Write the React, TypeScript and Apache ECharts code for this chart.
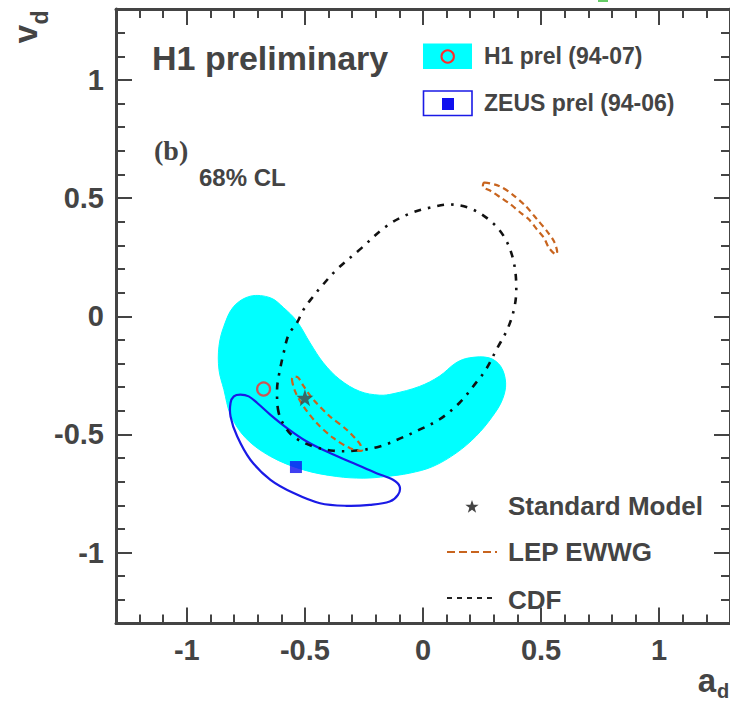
import React, { useEffect, useRef } from 'react';
import * as echarts from 'echarts';

// ---- axis ranges and tick labels ----
const AXIS_MIN = -1.3;
const AXIS_MAX = 1.3;

// ---- H1 prel (94-07) 68% CL region (a_d, v_d) ----
const h1Region: number[][] = [
  [-0.731, 0.085], [-0.646, 0.078], [-0.59, 0.036], [-0.534, -0.021], [-0.478, -0.113],
  [-0.422, -0.197], [-0.352, -0.268], [-0.267, -0.318], [-0.183, -0.334], [-0.127, -0.328],
  [-0.015, -0.297], [0.069, -0.254], [0.14, -0.197], [0.196, -0.176], [0.28, -0.176],
  [0.329, -0.212], [0.35, -0.282], [0.336, -0.353], [0.294, -0.424], [0.224, -0.508],
  [0.14, -0.579], [0.041, -0.636], [-0.057, -0.664], [-0.155, -0.678], [-0.253, -0.685],
  [-0.365, -0.678], [-0.506, -0.65], [-0.646, -0.593], [-0.752, -0.514], [-0.815, -0.417],
  [-0.843, -0.311], [-0.864, -0.226], [-0.864, -0.127], [-0.843, -0.042], [-0.801, 0.042],
];

// ---- ZEUS prel (94-06) contour ----
const zeusContour: number[][] = [
  [-0.773, -0.332], [-0.738, -0.339], [-0.702, -0.367], [-0.646, -0.417], [-0.576, -0.473],
  [-0.492, -0.53], [-0.394, -0.579], [-0.296, -0.621], [-0.197, -0.664], [-0.127, -0.692],
  [-0.099, -0.72], [-0.106, -0.756], [-0.141, -0.784], [-0.225, -0.798], [-0.323, -0.802],
  [-0.436, -0.791], [-0.548, -0.748], [-0.646, -0.692], [-0.731, -0.607], [-0.787, -0.508],
  [-0.815, -0.424], [-0.815, -0.367], [-0.801, -0.339],
];

// ---- CDF contour ----
const cdfContour: number[][] = [
  [-0.611, -0.409], [-0.618, -0.311], [-0.611, -0.254], [-0.59, -0.155], [-0.569, -0.078],
  [-0.534, -0.028], [-0.506, 0.028], [-0.464, 0.085], [-0.432, 0.124], [-0.365, 0.198],
  [-0.267, 0.283], [-0.155, 0.381], [-0.064, 0.431], [0.027, 0.459], [0.119, 0.473],
  [0.21, 0.452], [0.294, 0.396], [0.35, 0.325], [0.385, 0.226], [0.395, 0.113],
  [0.385, 0.028], [0.357, -0.056], [0.315, -0.134], [0.266, -0.226], [0.224, -0.282],
  [0.154, -0.367], [0.069, -0.437], [-0.015, -0.48], [-0.099, -0.518], [-0.183, -0.551],
  [-0.281, -0.568], [-0.38, -0.569], [-0.464, -0.551], [-0.534, -0.519], [-0.576, -0.48],
];

// ---- LEP EWWG contours ----
const lepContourLow: number[][] = [
  [-0.555, -0.268], [-0.541, -0.319], [-0.506, -0.381], [-0.45, -0.452], [-0.38, -0.515],
  [-0.309, -0.558], [-0.259, -0.569], [-0.263, -0.548], [-0.275, -0.53], [-0.323, -0.48],
  [-0.394, -0.424], [-0.464, -0.353], [-0.507, -0.294], [-0.528, -0.26], [-0.549, -0.256],
];
const lepContourHigh: number[][] = [
  [0.259, 0.565], [0.322, 0.551], [0.378, 0.516], [0.435, 0.466], [0.483, 0.41],
  [0.525, 0.36], [0.554, 0.318], [0.568, 0.275], [0.562, 0.261], [0.533, 0.29],
  [0.512, 0.332], [0.483, 0.367], [0.448, 0.41], [0.413, 0.438], [0.371, 0.473],
  [0.329, 0.502], [0.287, 0.53], [0.255, 0.546],
];

// ---- central values ----
const h1Point: number[][] = [[-0.675, -0.308]];
const zeusPoint: number[][] = [[-0.538, -0.638]];
const smPoint: number[][] = [[-0.5, -0.345]];

const STAR_PATH =
  'path://M50,0 L61.8,35.1 L98.1,35.1 L68.8,56.7 L79.4,91 L50,70 L20.6,91 L31.2,56.7 L1.9,35.1 L38.2,35.1 Z';

const INK = '#444444';
const FONT = 'Liberation Sans, Arial, sans-serif';
const CYAN = '#00ffff';
const BLUE = '#1a1ae6';
const RED = '#ff2a2a';
const BROWN = '#c8641e';

function majorAxis(position: string, showLabel: boolean) {
  return {
    type: 'value',
    position,
    min: AXIS_MIN,
    max: AXIS_MAX,
    splitNumber: 5,
    axisLine: { show: true, onZero: false, lineStyle: { color: INK, width: 3 } },
    axisTick: { show: true, inside: true, length: 16, lineStyle: { color: INK, width: 2 } },
    axisLabel: {
      show: showLabel,
      showMinLabel: false,
      showMaxLabel: false,
      fontFamily: FONT,
      fontWeight: 'bold',
      fontSize: 29,
      color: INK,
      margin: 12,
    },
    splitLine: { show: false },
  };
}

function minorAxis(position: string) {
  return {
    type: 'value',
    position,
    min: AXIS_MIN,
    max: AXIS_MAX,
    interval: 0.1,
    axisLine: { show: false, onZero: false },
    axisTick: { show: true, inside: true, length: 9, lineStyle: { color: INK, width: 2 } },
    axisLabel: { show: false },
    splitLine: { show: false },
  };
}

function contourSeries(name: string, pts: number[][], style: any, z: number, smooth = 0.35) {
  return {
    type: 'custom',
    name,
    xAxisIndex: 0,
    yAxisIndex: 0,
    z,
    silent: true,
    data: [pts[0]],
    renderItem: (_params: any, api: any) => ({
      type: 'polygon',
      shape: { points: pts.map((p) => api.coord(p)), smooth },
      style,
    }),
  };
}

function starPoints(cx: number, cy: number, r: number) {
  const out: number[][] = [];
  for (let i = 0; i < 10; i++) {
    const rr = i % 2 === 0 ? r : r * 0.4;
    const ang = -Math.PI / 2 + (i * Math.PI) / 5;
    out.push([cx + rr * Math.cos(ang), cy + rr * Math.sin(ang)]);
  }
  return out;
}

function txt(text: string, x: number, y: number, size: number, opts: any = {}) {
  return {
    type: 'text',
    x,
    y,
    rotation: opts.rotation || 0,
    z: 100,
    style: {
      text,
      fill: opts.fill || INK,
      fontSize: size,
      fontWeight: opts.weight || 'bold',
      fontFamily: opts.family || FONT,
      fontStyle: opts.style || 'normal',
      align: opts.align || 'left',
      textAlign: opts.align || 'left',
      verticalAlign: 'middle',
      textVerticalAlign: 'middle',
    },
  };
}

export default function App() {
  const ref = useRef<HTMLDivElement>(null);

  useEffect(() => {
    if (!ref.current) return;
    const chart = echarts.init(ref.current, undefined, { renderer: 'svg' });

    const option: any = {
      animation: false,
      backgroundColor: '#ffffff',
      grid: { left: 116, right: -3, top: 9, bottom: 81.5, containLabel: false, show: false },
      xAxis: [majorAxis('bottom', true), minorAxis('bottom'), majorAxis('top', false), minorAxis('top')],
      yAxis: [majorAxis('left', true), minorAxis('left'), majorAxis('right', false), minorAxis('right')],
      series: [
        contourSeries('H1 prel (94-07)', h1Region, { fill: CYAN, stroke: CYAN, lineWidth: 1 }, 1),
        contourSeries('ZEUS prel (94-06)', zeusContour, { fill: 'none', stroke: BLUE, lineWidth: 2.2 }, 3),
        contourSeries('CDF', cdfContour, { fill: 'none', stroke: '#111', lineWidth: 2.6, lineDash: [7, 7, 2.5, 7] }, 4),
        contourSeries('LEP EWWG', lepContourLow, { fill: 'none', stroke: BROWN, lineWidth: 2.2, lineDash: [6, 4] }, 5, 0.3),
        contourSeries('LEP EWWG ', lepContourHigh, { fill: 'none', stroke: BROWN, lineWidth: 2.2, lineDash: [6, 4] }, 5, 0.3),
        {
          type: 'scatter', name: 'H1 central', data: h1Point, xAxisIndex: 0, yAxisIndex: 0, z: 8,
          symbol: 'circle', symbolSize: 13,
          itemStyle: { color: 'rgba(255,255,255,0)', borderColor: RED, borderWidth: 2.2 }, silent: true,
        },
        {
          type: 'scatter', name: 'ZEUS central', data: zeusPoint, xAxisIndex: 0, yAxisIndex: 0, z: 8,
          symbol: 'rect', symbolSize: 12, itemStyle: { color: '#1010ee' }, silent: true,
        },
        {
          type: 'scatter', name: 'Standard Model', data: smPoint, xAxisIndex: 0, yAxisIndex: 0, z: 9,
          symbol: STAR_PATH, symbolSize: 17, itemStyle: { color: INK }, silent: true,
        },
      ],
      graphic: [
        // small artifact at top
        { type: 'rect', shape: { x: 598, y: 0, width: 10, height: 2 }, style: { fill: '#66cc66' }, z: 100 },
        txt('H1 preliminary', 152, 57.5, 34),
        // legend top
        { type: 'rect', shape: { x: 423, y: 43.5, width: 49, height: 25.5 }, style: { fill: CYAN }, z: 100 },
        { type: 'circle', shape: { cx: 447.7, cy: 56.4, r: 6.2 }, style: { fill: 'none', stroke: RED, lineWidth: 2 }, z: 101 },
        txt('H1 prel (94-07)', 484, 56, 23),
        { type: 'rect', shape: { x: 423.5, y: 91, width: 48.5, height: 24.5 }, style: { fill: '#ffffff', stroke: BLUE, lineWidth: 1.6 }, z: 100 },
        { type: 'rect', shape: { x: 442, y: 98, width: 12, height: 12 }, style: { fill: '#1010ee' }, z: 101 },
        txt('ZEUS prel (94-06)', 484, 103, 23),
        // labels
        txt('(b)', 154, 150, 28, { family: 'Liberation Serif, Times New Roman, serif' }),
        txt('68% CL', 199, 177, 24),
        // legend bottom
        { type: 'polygon', shape: { points: starPoints(472, 507, 7) }, style: { fill: INK }, z: 100 },
        txt('Standard Model', 508, 506, 26),
        { type: 'line', shape: { x1: 447, y1: 552, x2: 497, y2: 552 }, style: { stroke: BROWN, lineWidth: 2, lineDash: [8, 4] }, z: 100 },
        txt('LEP EWWG', 508, 552, 26),
        { type: 'line', shape: { x1: 447, y1: 598, x2: 497, y2: 598 }, style: { stroke: '#222', lineWidth: 2, lineDash: [5, 5] }, z: 100 },
        txt('CDF', 508, 600, 26),
        // axis titles
        txt('a', 707, 680, 33, { align: 'center' }),
        txt('d', 723, 691, 20, { align: 'center' }),
        txt('v', 25.5, 34, 33, { align: 'center', rotation: Math.PI / 2 }),
        txt('d', 40, 17.5, 23, { align: 'center', rotation: Math.PI / 2 }),
      ],
    };

    chart.setOption(option);
    return () => chart.dispose();
  }, []);

  return (
    <div
      ref={ref}
      style={{ position: 'absolute', left: 0, top: 0, width: 730, height: 705, background: '#fff' }}
    />
  );
}
